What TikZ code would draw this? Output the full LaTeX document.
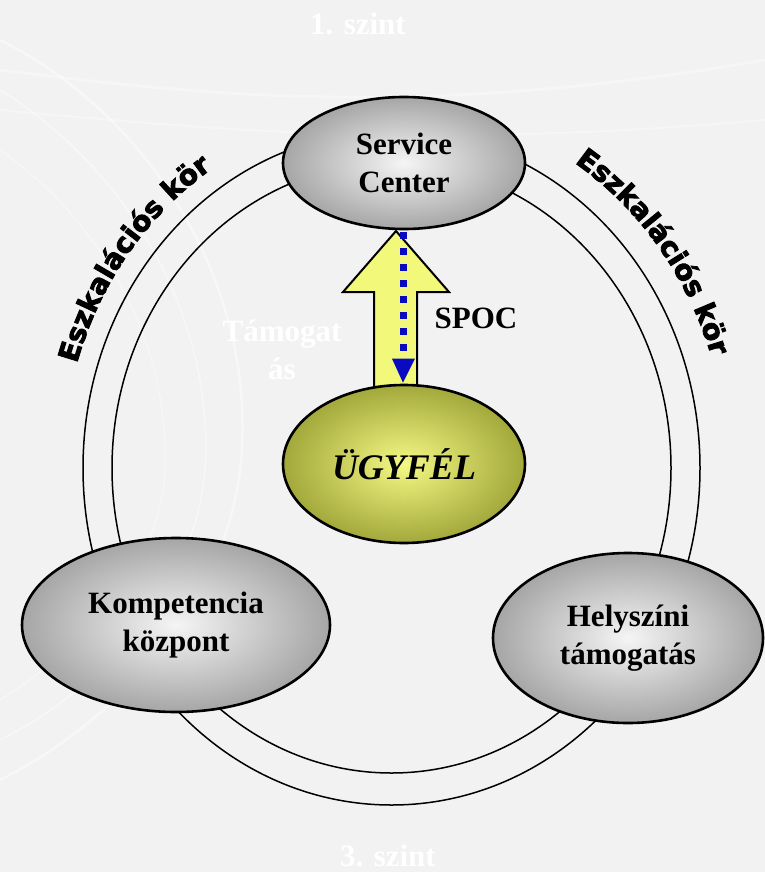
\documentclass[tikz,border=0pt]{standalone}
\usepackage{fontspec}
\setmainfont{Liberation Serif}
\newfontfamily\eszfont{DejaVu Sans}[UprightFont={* Bold}, UprightFeatures={FakeBold=3}]
\usetikzlibrary{shapes.geometric,decorations.text,calc}
\definecolor{bg}{HTML}{F2F2F2}
\definecolor{yelin}{HTML}{F4F884}
\definecolor{yelout}{HTML}{A2A83A}
\definecolor{arrowfill}{HTML}{F2F87A}
\definecolor{spocblue}{HTML}{0A0AC0}
\tikzset{
  ring/.style={draw=black, line width=1.5pt},
  grayell/.style={ellipse, draw=black, line width=2.6pt, inner sep=0pt,
     shading=radial, inner color=gray!8, outer color=gray!70,
     font=\fontsize{31}{38}\selectfont\bfseries, align=center},
  custell/.style={ellipse, draw=black, line width=2.6pt, inner sep=0pt,
     shading=radial, inner color=yelin, outer color=yelout,
     font=\fontsize{36}{40}\selectfont\bfseries\itshape, align=center},
  ghost/.style={text=white, font=\fontsize{31}{38}\selectfont\bfseries, align=center},
  blockarrow/.style={fill=arrowfill, draw=black, line width=2pt, line join=miter},
  spocline/.style={draw=spocblue, line width=7pt, dash pattern=on 7pt off 9pt},
  swirl/.style={draw=white, opacity=0.45},
  esz/.style={decorate, decoration={text along path,
     text={|\eszfont\fontsize{28}{28}\selectfont|Eszkalációs kör}}}
}
\begin{document}
\begin{tikzpicture}[x=1pt,y=-1pt]
\useasboundingbox (0,0) rectangle (765,872);
\fill[bg] (0,0) rectangle (765,872);
% faint background swirls
\path[swirl, line width=2.5pt] (0,40) .. controls (160,120) and (260,300) .. (240,470) .. controls (225,600) and (120,720) .. (0,780);
\path[swirl, line width=1.5pt] (0,90) .. controls (130,170) and (215,320) .. (205,470) .. controls (195,590) and (100,690) .. (0,740);
\path[swirl, line width=1pt] (0,150) .. controls (100,220) and (170,340) .. (165,470) .. controls (160,570) and (80,650) .. (0,700);
\path[swirl, line width=3pt, opacity=0.35] (0,70) .. controls (200,95) and (420,120) .. (765,60);
\path[swirl, line width=2pt, opacity=0.35] (0,110) .. controls (220,130) and (420,150) .. (765,120);
% ghost texts
\node[ghost] (lvl1) at (358,24) {1. szint};
\node[ghost] (lvl3) at (388,856) {3. szint};
\node[ghost] (tam) at (282,350) {Támogat\\ás};
% rings
\draw[ring] (391.5,468) ellipse [x radius=308.5, y radius=337];
\draw[ring] (391.5,468) ellipse [x radius=279.5, y radius=305];
% escalation labels
\path[esz] (391.5,468) ++(197:329 and 357) arc[start angle=197, end angle=258, x radius=329, y radius=357];
\path[esz] (391.5,468) ++(-57:336 and 364) arc[start angle=-57, end angle=5, x radius=336, y radius=364];
% nodes (positions)
\coordinate (sccen) at (404,163);
\coordinate (ugycen) at (404,464);
% block arrow
\coordinate (tip) at (396,231);
\draw[blockarrow] (tip) -- (449,292) -- (417,292) -- (417,388) -- (374,388) -- (374,292) -- (343,292) -- cycle;
% ellipses
\node[grayell, minimum width=242pt, minimum height=132pt] (sc) at (sccen) {Service\\Center};
\node[custell, minimum width=242pt, minimum height=158pt] (ugy) at (ugycen) {ÜGYFÉL};
\node[grayell, minimum width=308pt, minimum height=174pt] (komp) at (176,625) {Kompetencia\\központ};
\node[grayell, minimum width=270pt, minimum height=170pt] (hely) at (628,638) {Helyszíni\\támogatás};
% SPOC dotted link
\coordinate (spoctop) at ($(sc.south)+(-1,2)$);
\coordinate (spocend) at ($(ugy.north)+(-1,-26)$);
\draw[spocline] (spoctop) -- (spocend);
\fill[spocblue] ($(ugy.north)+(-12,-25)$) -- ($(ugy.north)+(11,-25)$) -- ($(ugy.north)+(-1,-1)$) -- cycle;
\node[font=\fontsize{31}{38}\selectfont\bfseries] (spoc) at (476,318) {SPOC};
\end{tikzpicture}
\end{document}
